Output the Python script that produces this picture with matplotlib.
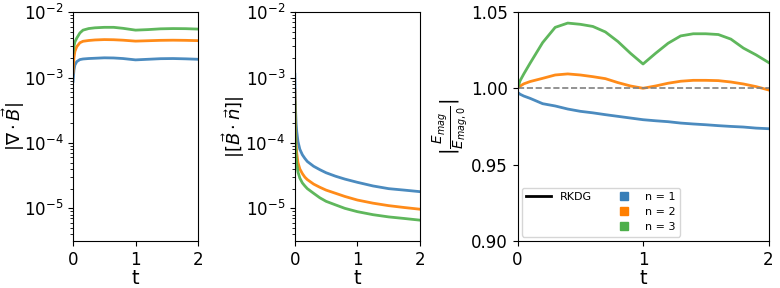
import numpy as np
import matplotlib
matplotlib.use("Agg")
import matplotlib.pyplot as plt
from matplotlib.lines import Line2D

BLUE = "#377eb8"
ORANGE = "#ff7f00"
GREEN = "#4daf4a"
COLORS = [BLUE, ORANGE, GREEN]

# panel 1: |div B| over time
t_div = [0, 0.015, 0.03, 0.06, 0.11, 0.16, 0.25, 0.35, 0.5, 0.65, 0.8, 1.0, 1.2, 1.4,
         1.6, 1.8, 2.0]
div_n1 = [8.7e-4, 1.3e-3, 1.55e-3, 1.75e-3, 1.88e-3, 1.92e-3, 1.95e-3, 1.97e-3, 2.0e-3,
          1.99e-3, 1.95e-3, 1.86e-3, 1.9e-3, 1.94e-3, 1.95e-3, 1.93e-3, 1.9e-3]
div_n2 = [1.18e-3, 2.0e-3, 2.5e-3, 2.96e-3, 3.4e-3, 3.58e-3, 3.68e-3, 3.75e-3, 3.8e-3,
          3.78e-3, 3.72e-3, 3.6e-3, 3.65e-3, 3.7e-3, 3.72e-3, 3.7e-3, 3.66e-3]
div_n3 = [2.4e-3, 3.0e-3, 3.5e-3, 4.0e-3, 4.8e-3, 5.3e-3, 5.6e-3, 5.75e-3, 5.85e-3,
          5.85e-3, 5.65e-3, 5.3e-3, 5.4e-3, 5.55e-3, 5.6e-3, 5.58e-3, 5.5e-3]

# panel 2: |[B.n]| over time
t_jump = [0, 0.005, 0.01, 0.02, 0.03, 0.05, 0.08, 0.12, 0.16, 0.2, 0.3, 0.4, 0.5, 0.65,
          0.8, 1.0, 1.25, 1.5, 1.75, 2.0]
jump_n1 = [1.12e-3, 5.5e-4, 3.5e-4, 2e-4, 1.5e-4, 1.05e-4, 8e-5, 6.6e-5, 5.8e-5, 5.2e-5,
           4.4e-5, 3.9e-5, 3.5e-5, 3.1e-5, 2.8e-5, 2.5e-5, 2.2e-5, 2.0e-5, 1.9e-5, 1.8e-5]
jump_n2 = [6.3e-4, 2.6e-4, 1.6e-4, 9.5e-5, 7e-5, 5e-5, 4e-5, 3.4e-5, 3.0e-5, 2.75e-5,
           2.35e-5, 2.1e-5, 1.9e-5, 1.7e-5, 1.52e-5, 1.34e-5, 1.2e-5, 1.1e-5, 1.03e-5,
           9.7e-6]
jump_n3 = [4.2e-4, 1.7e-4, 1.05e-4, 6.5e-5, 4.8e-5, 3.6e-5, 2.9e-5, 2.45e-5, 2.2e-5,
           2.0e-5, 1.7e-5, 1.45e-5, 1.28e-5, 1.13e-5, 1.0e-5, 8.9e-6, 8e-6, 7.4e-6, 7e-6,
           6.6e-6]

# panel 3: magnetic energy ratio
t_en = [0, 0.02, 0.05, 0.1, 0.2, 0.3, 0.4, 0.5, 0.6, 0.7, 0.8, 0.9, 1.0, 1.1, 1.2, 1.3,
        1.4, 1.5, 1.6, 1.7, 1.8, 1.9, 2.0]
en_n1 = [0.9975, 0.9962, 0.995, 0.9935, 0.990, 0.9885, 0.9865, 0.985, 0.984, 0.9828,
         0.9817, 0.9806, 0.9795, 0.9788, 0.9782, 0.9773, 0.9767, 0.9762, 0.9756,
         0.9751, 0.9747, 0.974, 0.9736]
en_n2 = [1.0, 1.0015, 1.003, 1.0045, 1.0066, 1.0088, 1.0095, 1.0088, 1.0077, 1.0064,
         1.0038, 1.0016, 1.0001, 1.0016, 1.0034, 1.0047, 1.0053, 1.0053, 1.0051,
         1.0042, 1.0029, 1.0012, 0.999]
en_n3 = [1.0, 1.005, 1.0095, 1.0165, 1.030, 1.040, 1.0428, 1.042, 1.0406, 1.037, 1.0307,
         1.023, 1.016, 1.023, 1.0296, 1.0344, 1.0358, 1.0358, 1.0353, 1.0323, 1.0264,
         1.022, 1.017]

labels = ["n = 1", "n = 2", "n = 3"]

plt.rcParams.update({"font.size": 12, "mathtext.fontset": "dejavusans"})

fig = plt.figure(figsize=(7.8, 2.88), dpi=100)
ax1 = fig.add_axes([0.0936, 0.163, 0.1603, 0.795])
ax2 = fig.add_axes([0.378, 0.163, 0.1603, 0.795])
ax3 = fig.add_axes([0.6635, 0.163, 0.3218, 0.795])

for ys, c in zip([div_n1, div_n2, div_n3], COLORS):
    ax1.plot(t_div, ys, color=c, lw=2, alpha=0.9)
ax1.set_yscale("log")
ax1.set_ylim(10 ** -5.5, 1e-2)
ax1.set_ylabel(r"$|\nabla \cdot \vec{B}|$", fontsize=13)
ax1.yaxis.set_label_coords(-0.37, 0.5)

for ys, c in zip([jump_n1, jump_n2, jump_n3], COLORS):
    ax2.plot(t_jump, ys, color=c, lw=2, alpha=0.9)
ax2.set_yscale("log")
ax2.set_ylim(10 ** -5.5, 1e-2)
ax2.set_ylabel(r"$|[\vec{B} \cdot \vec{n}]|$", fontsize=13)
ax2.yaxis.set_label_coords(-0.385, 0.5)

for ys, c in zip([en_n1, en_n2, en_n3], COLORS):
    ax3.plot(t_en, ys, color=c, lw=2, alpha=0.9)
ax3.axhline(1.0, color="gray", ls="--", lw=1.2)
ax3.set_ylim(0.90, 1.05)
ax3.set_yticks([0.90, 0.95, 1.00, 1.05])
ax3.set_ylabel(r"$|\frac{E_{mag}}{E_{mag,0}}|$", fontsize=14)
ax3.yaxis.set_label_coords(-0.19, 0.5)

for ax in (ax1, ax2, ax3):
    ax.set_xlim(0, 2)
    ax.set_xticks([0, 1, 2])
    ax.set_xlabel("t", fontsize=14, labelpad=0)
    ax.tick_params(labelsize=12)

blank = Line2D([], [], color="none")
handles = [Line2D([], [], color="black", lw=2), blank, blank] + [
    Line2D([], [], color=c, marker="s", ls="none", ms=6) for c in COLORS]
ax3.legend(handles, ["RKDG", "", ""] + labels, ncol=2, loc="lower left",
           fontsize=8, handlelength=2.2, columnspacing=1.8, labelspacing=0.45,
           borderaxespad=0.4)

fig.savefig("out.png", dpi=100)
